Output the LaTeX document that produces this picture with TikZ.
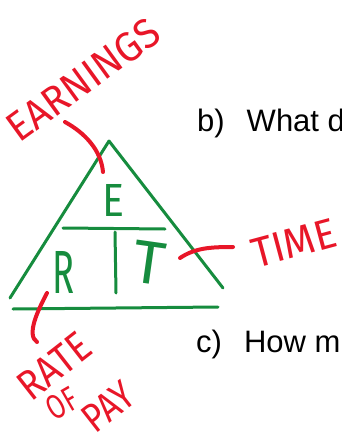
\documentclass[tikz,border=0pt]{standalone}
\usepackage{fontspec}
\setmainfont{Liberation Sans}
\newfontfamily\hand{Fira Sans}
\definecolor{pengreen}{RGB}{22,140,62}
\definecolor{penred}{RGB}{232,22,40}
\begin{document}
\begin{tikzpicture}[x=1pt,y=-1pt,
  gstroke/.style={draw=pengreen,line width=3pt,line cap=round,line join=round},
  rstroke/.style={draw=penred,line width=4pt,line cap=round,line join=round},
  rtext/.style={text=penred,inner sep=0pt,font=\hand},
  gtext/.style={text=pengreen,inner sep=0pt,font=\hand},
  btext/.style={text=black,inner sep=0pt,font=\fontsize{31}{36}\selectfont,anchor=base west}]
\useasboundingbox (0,0) rectangle (342,439);
\clip (0,0) rectangle (342,439);
% triangle
\coordinate (apex) at (109,141);
\coordinate (bl) at (10,298);
\coordinate (br) at (223,288);
\draw[gstroke] (bl) -- (apex) -- (br);
\coordinate (b1) at (13,309);
\coordinate (b2) at (218,307);
\draw[gstroke] (b1) -- (b2);
\coordinate (h1) at (63,228);
\coordinate (h2) at (165,229);
\draw[gstroke] (h1) -- (h2);
\coordinate (v1) at (115,232);
\coordinate (v2) at (116,293);
\draw[gstroke] (v1) -- (v2);
% green letters
\node[gtext] (E) at (113,200) {\resizebox{22pt}{32pt}{E}};
\node[gtext] (R) at (64,272) {\resizebox{22pt}{42pt}{R}};
\node[gtext,rotate=-8] (T) at (149,263) {\resizebox{32pt}{42pt}{T}};
% red labels
\node[rtext,rotate=36] (earn) at (83,80) {\resizebox{178pt}{29pt}{EARNINGS}};
\node[rtext,rotate=15] (time) at (294,243) {\resizebox{86pt}{29pt}{TIME}};
\node[rtext,rotate=38] (rate) at (54,366) {\resizebox{80pt}{29pt}{RATE}};
\node[rtext,rotate=30] (of) at (62,404) {\resizebox{30pt}{24pt}{OF}};
\node[rtext,rotate=38] (pay) at (108,407) {\resizebox{54pt}{28pt}{PAY}};
% red pointers
\coordinate (e1) at (65,122);
\coordinate (e2) at (103,172);
\draw[rstroke] (e1) .. controls (85,133) and (101,150) .. (e2);
\coordinate (t1) at (180,258);
\coordinate (t2) at (233,247);
\draw[rstroke] (t1) .. controls (195,248) and (210,247) .. (t2);
\coordinate (r1) at (47,293);
\coordinate (r2) at (37,342);
\draw[rstroke] (r1) .. controls (38,310) and (26,335) .. (r2);
% black text
\node[btext] (b) at (197,131) {b)\hspace{22pt}What d};
\node[btext] (c) at (196,352) {c)\hspace{22pt}How m};
\end{tikzpicture}
\end{document}
